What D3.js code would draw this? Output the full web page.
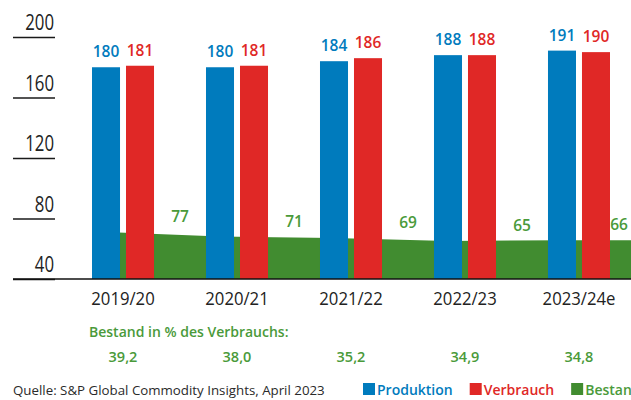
<!DOCTYPE html>
<html>
<head>
<meta charset="utf-8">
<script src="https://cdn.jsdelivr.net/npm/d3@7"></script>
<style>
  html, body { margin: 0; padding: 0; background: #fff; }
  svg { display: block; }
  text { font-family: "Open Sans", "Noto Sans", sans-serif; }
</style>
</head>
<body>
<svg id="chart" width="631" height="400"></svg>
<script>
// ---- data ----
const categories = ["2019/20", "2020/21", "2021/22", "2022/23", "2023/24e"];
const produktion = [180, 180, 184, 188, 191];
const verbrauch  = [181, 181, 186, 188, 190];
const bestand    = [77, 71, 69, 65, 66];
const bestandPct = ["39,2", "38,0", "35,2", "34,9", "34,8"];
const yTicks     = [40, 80, 120, 160, 200];
const seriesNames = ["Produktion", "Verbrauch", "Bestand"];
const pctTitle = "Bestand in % des Verbrauchs:";
const sourceText = "Quelle: S&P Global Commodity Insights, April 2023";

// ---- styles ----
const W = 631, H = 400;
const colors = { Produktion: "#007bbd", Verbrauch: "#e02826", Bestand: "#418c30" };
const greenText = "#4a9a3a";

const svg = d3.select("#chart");

// scales
const x = d3.scaleBand().domain(categories).range([92, 610]).paddingInner(0.456).paddingOuter(0);
const xSub = d3.scaleBand().domain(["Produktion", "Verbrauch"]).range([0, x.bandwidth()]).paddingInner(0.176).paddingOuter(0);
const y = d3.scaleLinear().domain([40, 200]).range([279, 37]);
const y2 = d3.scaleLinear().domain([65, 77]).range([241, 232]);

// ---- green area (behind bars) ----
const areaPts = categories.map((c, i) => ({ x: x(c) + xSub("Produktion") + xSub.bandwidth() / 2, v: bestand[i] }));
areaPts.push({ x: W, v: bestand[bestand.length - 1] });
const area = d3.area().x(d => d.x).y0(y(40)).y1(d => y2(d.v));
svg.append("path").datum(areaPts).attr("d", area).attr("fill", colors.Bestand);

// ---- bars ----
const rows = categories.map((c, i) => ({ cat: c, Produktion: produktion[i], Verbrauch: verbrauch[i] }));
const groups = svg.append("g").selectAll("g").data(rows).join("g")
  .attr("transform", d => `translate(${x(d.cat)},0)`);
groups.selectAll("rect").data(d => ["Produktion", "Verbrauch"].map(k => ({ k, v: d[k] })))
  .join("rect")
  .attr("x", d => xSub(d.k)).attr("width", xSub.bandwidth())
  .attr("y", d => y(d.v)).attr("height", d => y(40) - y(d.v))
  .attr("fill", d => colors[d.k]);
groups.selectAll("text").data(d => ["Produktion", "Verbrauch"].map(k => ({ k, v: d[k] })))
  .join("text")
  .attr("x", d => xSub(d.k) + xSub.bandwidth() / 2)
  .attr("y", d => y(d.v) - 10)
  .attr("text-anchor", "middle")
  .attr("font-size", 15.5).attr("font-weight", 600)
  .attr("fill", d => colors[d.k])
  .text(d => d.v);

// ---- green value labels ----
svg.append("g").selectAll("text").data(categories).join("text")
  .attr("x", (c) => Math.min(x(c) + x.bandwidth() / 2 + x.step() / 2, W - 12))
  .attr("y", (c, i) => y2(bestand[i]) - 10)
  .attr("text-anchor", "middle")
  .attr("font-size", 15.5).attr("font-weight", 600)
  .attr("fill", greenText)
  .text((c, i) => bestand[i]);

// ---- y axis ----
const yAxis = svg.append("g").attr("transform", "translate(55,0)")
  .call(d3.axisLeft(y).tickValues(yTicks).tickSize(42).tickPadding(0));
yAxis.select(".domain").remove();
yAxis.selectAll(".tick line").attr("stroke", "#1a1a1a").attr("stroke-width", 1.3);
yAxis.selectAll(".tick text")
  .attr("x", null).attr("dy", null)
  .attr("transform", "translate(-1,-7.5) scale(0.8,1)")
  .attr("text-anchor", "end")
  .attr("font-family", "'Open Sans', sans-serif")
  .attr("font-size", 21).attr("font-weight", 400)
  .attr("fill", "#222");

// baseline
svg.append("line").attr("x1", 13).attr("x2", W).attr("y1", y(40)).attr("y2", y(40))
  .attr("stroke", "#111").attr("stroke-width", 1.6);

// ---- x axis ----
const xAxis = svg.append("g").attr("transform", `translate(0,${y(40)})`)
  .call(d3.axisBottom(x).tickSize(0).tickPadding(0));
xAxis.select(".domain").remove();
xAxis.selectAll(".tick text")
  .attr("y", null).attr("dy", null)
  .attr("transform", "translate(0,26) scale(0.88,1)")
  .attr("font-family", "'Open Sans', sans-serif")
  .attr("font-size", 19).attr("font-weight", 400)
  .attr("fill", "#222");

// ---- percent row ----
svg.append("text").attr("x", 89).attr("y", 337)
  .attr("font-size", 14).attr("font-weight", 600).attr("fill", greenText)
  .text(pctTitle);
svg.append("g").selectAll("text").data(categories).join("text")
  .attr("x", c => x(c) + x.bandwidth() / 2)
  .attr("y", 362)
  .attr("text-anchor", "middle")
  .attr("font-size", 14.5).attr("font-weight", 600).attr("fill", greenText)
  .text((c, i) => bestandPct[i]);

// ---- source ----
svg.append("text").attr("x", 13).attr("y", 395)
  .attr("font-size", 13.3).attr("font-weight", 400).attr("fill", "#2a2a2a")
  .text(sourceText);

// ---- legend ----
let lx = 363;
seriesNames.forEach(name => {
  svg.append("rect").attr("x", lx).attr("y", 383).attr("width", 12).attr("height", 12).attr("fill", colors[name]);
  const t = svg.append("text").attr("x", lx + 14).attr("y", 395)
    .attr("font-size", 14).attr("font-weight", 600)
    .attr("fill", name === "Bestand" ? greenText : colors[name])
    .text(name);
  lx += 14 + t.node().getComputedTextLength() + 17;
});
</script>
</body>
</html>
